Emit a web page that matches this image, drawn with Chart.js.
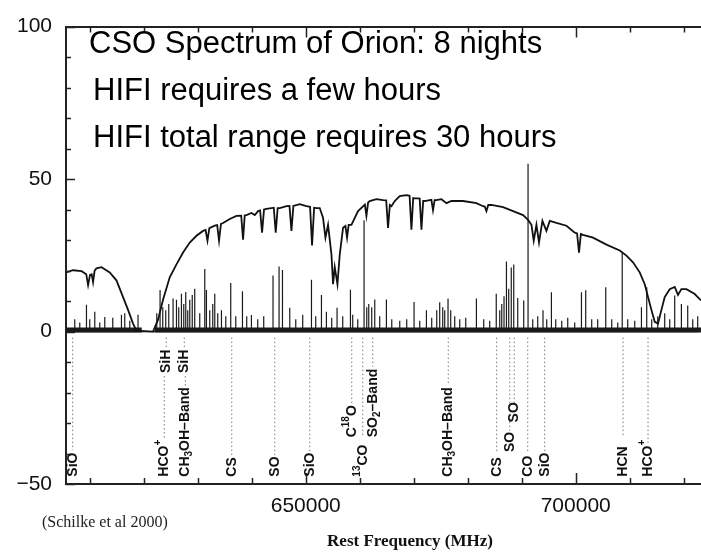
<!DOCTYPE html>
<html>
<head>
<meta charset="utf-8">
<script src="https://cdn.jsdelivr.net/npm/chart.js@4.4.0/dist/chart.umd.min.js"></script>
<style>
  html, body { margin: 0; padding: 0; background: #fff; overflow: hidden; }
  #wrap { width: 701px; height: 552px; }
</style>
</head>
<body>
<div id="wrap"><canvas id="orionChart" width="701" height="552"></canvas></div>
<script>
// atmospheric transmission curve (MHz, y units of the plot)
const atmFreq = [
  605600, 606900, 608500, 609350, 609690, 610050, 610350, 610610, 610900, 611240,
  612170, 613700, 614940, 616170, 617090, 618020, 618650, 621720, 622650, 623570,
  624810, 626060, 627280, 628520, 629760, 630980, 631450, 631800, 632150, 633150,
  633600, 633940, 634300, 634690, 635930, 637170, 638050, 638390, 638700, 639020,
  639940, 640560, 641170, 641550, 641910, 642270, 642720, 643650, 644080, 644440,
  644800, 645190, 646430, 646990, 647350, 647710, 648890, 650120, 650800, 651170,
  651550, 651980, 652590, 653200, 653650, 654130, 654760, 655060, 655370, 655870,
  656300, 656910, 657350, 657650, 657950, 658460, 659690, 660950, 661240, 661550,
  661850, 663090, 664320, 664900, 665240, 665580, 665870, 666480, 667410, 668650,
  669230, 669570, 669900, 670190, 670800, 671100, 671430, 671750, 672040, 672960,
  673270, 673570, 673870, 674200, 675130, 676060, 676980, 679130, 681610, 682830,
  683150, 683460, 683800, 684390, 686540, 688390, 690240, 691170, 691800, 692220,
  692720, 693200, 693830, 694570, 695190, 696430, 698280, 699820, 700250, 700610,
  700950, 701350, 703200, 705690, 708150, 709390, 710610, 711850, 712780, 713390,
  714020, 714630, 715240, 715870, 716480, 717410, 718330, 718940, 719570, 720500,
  722040, 723200
];
const atmValue = [
  19.4, 20.1, 19.8, 18.8, 15.2, 18.6, 18.8, 16.2, 20.0, 20.7,
  21.1, 19.4, 16.8, 11.3, 7.1, 2.6, 0.3, 0, 3.9, 10.4,
  17.8, 22.0, 25.9, 29.2, 31.4, 33.0, 33.3, 29.8, 33.9, 34.7,
  34.9, 29.8, 35.3, 35.6, 36.9, 37.9, 38.0, 30.1, 38.1, 38.2,
  38.9, 38.2, 39.5, 39.7, 32.4, 40.0, 40.2, 40.5, 40.6, 32.4,
  40.5, 40.5, 41.1, 41.2, 33.0, 41.2, 41.8, 41.1, 40.9, 28.2,
  40.6, 40.5, 40.5, 37.3, 30.8, 35.0, 25.3, 15.5, 21.1, 15.5,
  25.3, 34.0, 34.6, 30.8, 35.0, 35.0, 39.5, 41.6, 37.9, 42.3,
  42.8, 43.4, 43.1, 43.0, 34.0, 41.5, 41.1, 42.8, 44.4, 44.7,
  44.5, 33.4, 43.8, 43.7, 43.7, 43.6, 33.4, 42.8, 42.8, 43.1,
  43.2, 39.8, 43.1, 43.1, 43.4, 42.1, 42.8, 42.8, 42.1, 41.1,
  41.0, 39.5, 41.5, 41.5, 40.8, 39.5, 38.2, 36.6, 35.0, 29.8,
  35.0, 29.2, 36.3, 33.0, 36.3, 35.6, 34.7, 32.4, 32.2, 25.9,
  32.0, 31.7, 30.8, 28.5, 26.6, 24.9, 22.7, 19.4, 15.5, 11.3,
  7.1, 3.2, 2.6, 7.1, 11.3, 13.9, 14.6, 12.0, 13.9, 13.9,
  12.3, 10.2
];

// Orion spectrum: emission line peaks
const peakFreq = [
  607220, 608150, 609390, 610000, 610930, 611850, 612780, 614260, 615870, 616480,
  617410, 618940,
  622410, 623020, 623520, 624070, 624630, 625430, 626060, 626480, 626980, 627410,
  627780, 628150, 628520, 628980, 629440, 630370, 631300, 631610, 632220, 632780,
  633150, 633700, 634390, 635190, 636110, 637040, 638280, 639070, 639940, 641110,
  642220, 643940, 645060, 645690, 647040, 648150, 649440, 651060, 651850, 652910,
  653830, 654810, 655800, 656850, 658280, 658700, 659630, 660800, 661300, 661670,
  662220, 662780, 663700, 664940, 665930, 667410, 668700, 670060, 671110, 672350,
  673330, 674260, 674810, 675370, 675740, 676350, 676850, 677590, 678520, 679630,
  681610, 682960, 684070, 685280, 685930, 686300, 686720, 687170, 687590, 688060,
  688520, 689260, 690370, 691170, 692040, 692960, 693940, 694630, 695500, 696300,
  697410, 698520, 699810, 701060, 701850, 702960, 704070, 705560, 706670, 707780,
  708610, 709630, 710930, 712170, 713150, 714070, 715190, 716480, 717410, 718330,
  719570, 720740, 721670, 722590
];
const peakHeight = [
  4, 3, 8.8, 4, 6.5, 3, 4.8, 4.5, 5.5, 6,
  3.5, 5.5,
  6, 13.6, 8, 7, 9, 10.8, 10.4, 8, 12.4, 9,
  13, 7, 10.4, 12, 14, 6, 20.5, 13.6, 7, 9,
  12.4, 6, 7, 5, 15.9, 5, 13.2, 5, 5.4, 4,
  5, 18.4, 21.3, 20.2, 7.8, 4, 5.5, 17, 5, 12,
  6.5, 4.5, 7.8, 5, 13.7, 5.5, 4, 36.5, 8, 9,
  8, 10.5, 5, 10.5, 4, 3.5, 4, 9.7, 3.5, 7,
  4.5, 7, 9.6, 8, 7, 10.8, 7, 5, 4, 4.5,
  10.8, 4, 3.5, 12.4, 7, 9, 11.6, 23, 14, 21,
  22, 11, 10.2, 55, 4, 5, 7, 4, 12.9, 4,
  3.5, 4.5, 3, 12.9, 13.5, 4, 4, 14.5, 4, 3,
  26, 4, 3.5, 8, 14.5, 4, 5, 6, 4, 11.8,
  9, 8.5, 4, 5
];

// stretches covered by the noisy baseline of the spectrum
const noiseStart = [605600, 622040];
const noiseEnd = [619630, 723200];

// line identifications under the spectrum (^ = superscript, _ = subscript)
const idNames = [
  'SiO', 'HCO^+', 'SiH', 'SiH', 'CH_3OH\u2013Band', 'CS', 'SO', 'SiO', 'C^18O', '^13CO',
  'SO_2\u2013Band', 'CH_3OH\u2013Band', 'CS', 'SO', 'SO', 'CO', 'SiO', 'HCN', 'HCO^+'
];
const idFreq = [
  606850, 623800, 624170, 627500, 627690, 636300, 644260, 650740, 658520, 660560,
  662410, 676390, 685370, 687780, 688610, 691110, 694260, 708760, 713390
];
const idLabelBase = [
  -47.6, -47.6, -13.6, -13.6, -47.6, -47.6, -47.6, -47.6, -34.7, -47.6,
  -34.7, -47.6, -47.6, -39.5, -29.8, -47.6, -47.6, -47.6, -47.6
];
const idLineFrom = [
  -2, -14.6, -2, -2, -14.6, -2, -2, -2, -2, -2,
  -2, -2, -2, -2, -2, -2, -2, -2, -2
];
const idLineTo = [
  -38.9, -35.6, -5.2, -5.2, -18.2, -41, -41, -40, -23.5, -34,
  -11.5, -17.5, -40, -32.5, -23.5, -40, -39.5, -34.5, -36.5
];

const yTickValues = [-50, 0, 50, 100];
const xTickValues = [650000, 700000];
const xMin = 605600;
const xMax = 723200;

const notes = [
  'CSO Spectrum of Orion: 8 nights',
  'HIFI requires a few hours',
  'HIFI total range requires 30 hours'
];

// build the datasets
const atmPoints = atmFreq.map((f, i) => ({ x: f, y: atmValue[i] }));

const peakPoints = [];
peakFreq.forEach((f, i) => {
  peakPoints.push({ x: f, y: 0 }, { x: f, y: peakHeight[i] }, { x: f, y: 0 });
});

const noisePoints = [];
noiseStart.forEach((s, i) => {
  noisePoints.push({ x: s, y: 0.5 }, { x: noiseEnd[i], y: 0.5 }, { x: noiseEnd[i], y: null });
});

const idPoints = [];
idFreq.forEach((f, i) => {
  idPoints.push({ x: f, y: idLineFrom[i] }, { x: f, y: idLineTo[i] }, { x: f, y: null });
});

function parseLabel(label) {
  const parts = [];
  let i = 0;
  let buf = '';
  while (i < label.length) {
    const c = label[i];
    if (c === '^' || c === '_') {
      if (buf) { parts.push({ text: buf, kind: 'n' }); buf = ''; }
      let j = i + 1;
      let s = '';
      while (j < label.length && /[0-9+]/.test(label[j])) { s += label[j]; j++; }
      parts.push({ text: s, kind: c === '^' ? 'sup' : 'sub' });
      i = j;
    } else {
      buf += c;
      i++;
    }
  }
  if (buf) parts.push({ text: buf, kind: 'n' });
  return parts;
}

function drawRotatedLabel(ctx, x, y, label) {
  const parts = parseLabel(label);
  ctx.save();
  ctx.translate(x, y);
  ctx.rotate(-Math.PI / 2);
  ctx.textAlign = 'left';
  ctx.textBaseline = 'middle';
  let cx = 0;
  for (const p of parts) {
    ctx.font = p.kind === 'n' ? 'bold 14px "Liberation Sans"' : 'bold 10px "Liberation Sans"';
    const dy = p.kind === 'sup' ? -6 : (p.kind === 'sub' ? 4 : 0);
    ctx.fillText(p.text, cx, dy);
    cx += ctx.measureText(p.text).width;
  }
  ctx.restore();
}

const decorations = {
  id: 'decorations',
  afterDraw(chart) {
    const { ctx, chartArea } = chart;
    const x = chart.scales.x;
    const y = chart.scales.y;
    ctx.save();

    // inward tick marks on left, bottom and top axes
    ctx.strokeStyle = '#222';
    ctx.lineWidth = 1.5;
    ctx.beginPath();
    for (let v = 610000; v <= xMax; v += 10000) {
      const px = Math.round(x.getPixelForValue(v)) + 0.5;
      const len = v % 50000 === 0 ? 11 : 6;
      ctx.moveTo(px, chartArea.bottom);
      ctx.lineTo(px, chartArea.bottom - len);
      ctx.moveTo(px, chartArea.top);
      ctx.lineTo(px, chartArea.top + len);
    }
    for (let v = -50; v <= 100; v += 10) {
      const py = Math.round(y.getPixelForValue(v)) + 0.5;
      const len = v % 50 === 0 ? 9 : 5;
      ctx.moveTo(chartArea.left, py);
      ctx.lineTo(chartArea.left + len, py);
    }
    ctx.stroke();

    // line identification labels
    ctx.fillStyle = '#111';
    idNames.forEach((name, i) => {
      drawRotatedLabel(ctx, x.getPixelForValue(idFreq[i]), y.getPixelForValue(idLabelBase[i]), name);
    });

    // annotations
    ctx.fillStyle = '#000';
    ctx.textAlign = 'left';
    ctx.textBaseline = 'alphabetic';
    ctx.font = '31px "Liberation Sans"';
    ctx.fillText(notes[0], 89, 53);
    ctx.fillText(notes[1], 93, 100);
    ctx.fillText(notes[2], 93, 147);

    ctx.font = '16px "Liberation Serif"';
    ctx.fillStyle = '#222';
    ctx.fillText('(Schilke et al 2000)', 42, 527);

    ctx.font = 'bold 17px "Liberation Serif"';
    ctx.textAlign = 'center';
    ctx.fillStyle = '#111';
    ctx.fillText('Rest Frequency (MHz)', 410, 546);
    ctx.restore();
  }
};

new Chart(document.getElementById('orionChart'), {
  type: 'line',
  data: {
    datasets: [
      {
        label: 'Line identifications',
        data: idPoints,
        borderColor: '#777',
        borderWidth: 1,
        borderDash: [1.5, 2.5],
        spanGaps: false
      },
      {
        label: 'Atmospheric transmission',
        data: atmPoints,
        borderColor: '#111',
        borderWidth: 1.8
      },
      {
        label: 'Orion spectrum',
        data: peakPoints,
        borderColor: '#1a1a1a',
        borderWidth: 1.2
      },
      {
        label: 'Noise floor',
        data: noisePoints,
        borderColor: '#1a1a1a',
        borderWidth: 5,
        spanGaps: false
      }
    ]
  },
  options: {
    responsive: false,
    animation: false,
    devicePixelRatio: 1,
    layout: { padding: { top: 21, right: 0, bottom: 0, left: 0 } },
    elements: { point: { radius: 0 }, line: { tension: 0 } },
    plugins: { legend: { display: false }, tooltip: { enabled: false } },
    scales: {
      x: {
        type: 'linear',
        position: 'bottom',
        min: xMin,
        max: xMax,
        grid: { display: false, drawTicks: false },
        border: { display: true, color: '#222', width: 2 },
        afterBuildTicks: (scale) => { scale.ticks = xTickValues.map(v => ({ value: v })); },
        afterFit: (scale) => { scale.height = 68; },
        ticks: {
          padding: 10,
          maxRotation: 0,
          color: '#111',
          font: { family: '"Liberation Sans"', size: 21 },
          callback: (v) => String(v)
        }
      },
      xTop: {
        type: 'linear',
        position: 'top',
        min: xMin,
        max: xMax,
        grid: { display: false, drawTicks: false },
        border: { display: true, color: '#222', width: 2 },
        ticks: { display: false },
        afterFit: (scale) => { scale.height = 0; }
      },
      y: {
        min: -50,
        max: 100,
        grid: { display: false, drawTicks: false },
        border: { display: true, color: '#222', width: 2 },
        afterBuildTicks: (scale) => { scale.ticks = yTickValues.map(v => ({ value: v })); },
        afterFit: (scale) => { scale.width = 66; },
        ticks: {
          padding: 14,
          color: '#111',
          font: { family: '"Liberation Sans"', size: 21 },
          callback: (v) => (v < 0 ? '\u2212' + Math.abs(v) : String(v))
        }
      }
    }
  },
  plugins: [decorations]
});
</script>
</body>
</html>
